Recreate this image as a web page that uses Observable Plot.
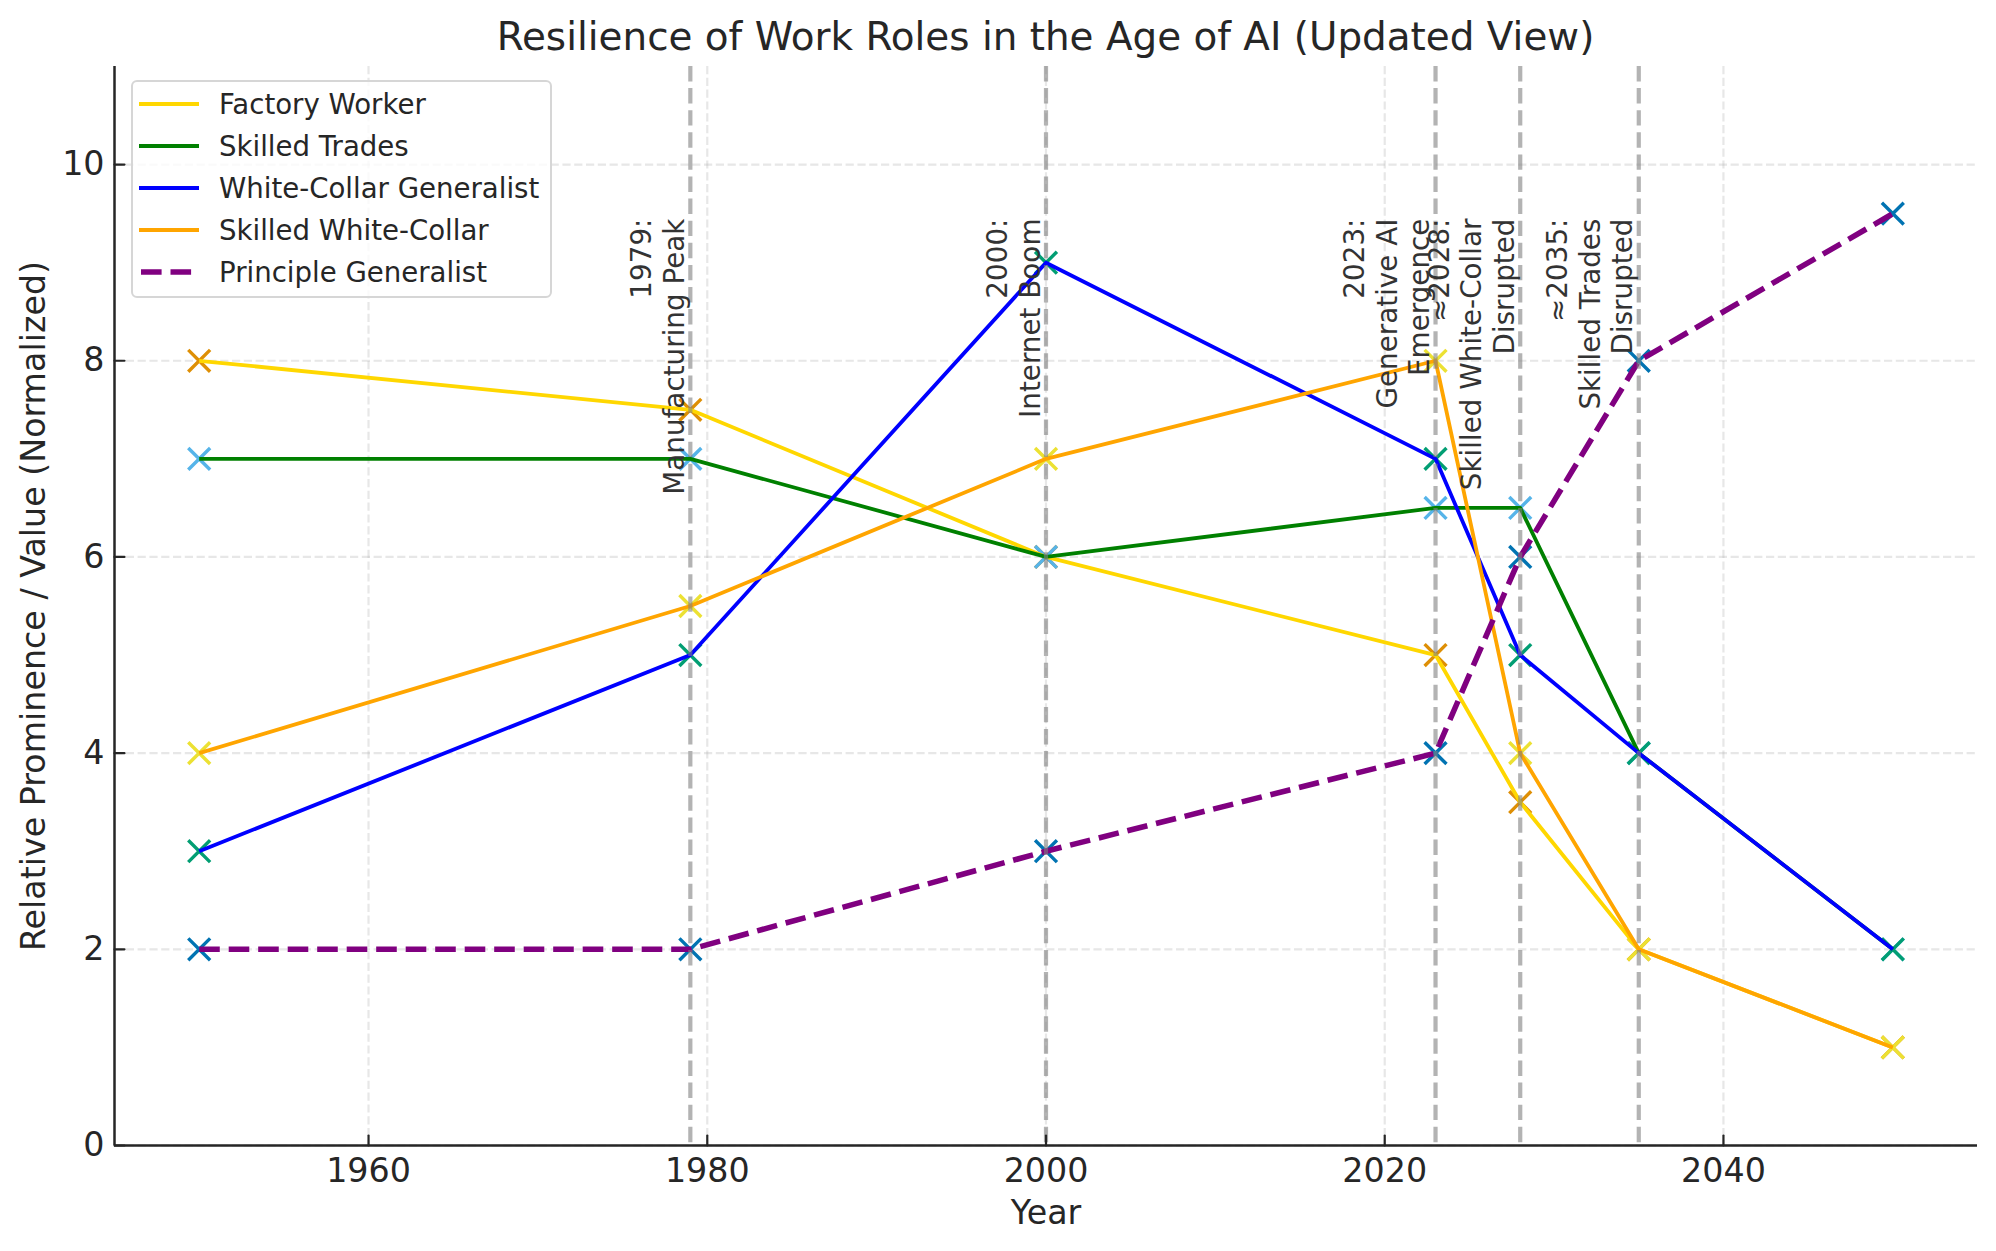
<!DOCTYPE html>
<html>
<head>
<meta charset="utf-8">
<script src="https://cdn.jsdelivr.net/npm/d3@7"></script>
<script src="https://cdn.jsdelivr.net/npm/@observablehq/plot@0.6"></script>
<style>
  html, body { margin: 0; padding: 0; background: #fff; }
  #wrap { position: relative; width: 1996px; height: 1251px; font-family: "DejaVu Sans", sans-serif; color: #262626; overflow: hidden; }
  #title { box-sizing: border-box; height: 60px; padding-top: 18px; text-align: center; font-size: 38.9px; line-height: 1; color: #262626; padding-left: 95px; white-space: nowrap; }
  #legend { position: absolute; box-sizing: border-box; left: 131px; top: 80px; width: 421px; height: 218px;
            border: 2px solid #d6d6d6; border-radius: 6px; background: rgba(255,255,255,0.8); }
  .row { position: absolute; left: 0; height: 42px; display: flex; align-items: center; font-size: 27.6px; color: #262626; white-space: nowrap; }
  .row svg { margin-left: 6px; margin-right: 20px; }
</style>
</head>
<body>
<div id="wrap">
  <div id="title">Resilience of Work Roles in the Age of AI (Updated View)</div>
  <div id="chart"></div>
  <div id="legend"></div>
</div>
<script>
// ---- data ----
const years = [1950, 1979, 2000, 2023, 2028, 2035, 2050];
const seriesNames = ["Factory Worker", "Skilled Trades", "White-Collar Generalist", "Skilled White-Collar", "Principle Generalist"];
const factoryWorker = [8, 7.5, 6, 5, 3.5, 2, 1];
const skilledTrades = [7, 7, 6, 6.5, 6.5, 4, 2];
const whiteCollarGeneralist = [3, 5, 9, 7, 5, 4, 2];
const skilledWhiteCollar = [4, 5.5, 7, 8, 4, 2, 1];
const principleGeneralist = [2, 2, 3, 4, 6, 8, 9.5];
const eventYears = [1979, 2000, 2023, 2028, 2035];
const eventLabels = [
  "1979:\nManufacturing Peak",
  "2000:\nInternet Boom",
  "2023:\nGenerative AI\nEmergence",
  "≈2028:\nSkilled White-Collar\nDisrupted",
  "≈2035:\nSkilled Trades\nDisrupted"
];
const eventLabelTop = 9.45;
const xTicks = [1960, 1980, 2000, 2020, 2040];
const yTicks = [0, 2, 4, 6, 8, 10];
const xDomain = [1945, 2055];
const yDomain = [0, 11];

// ---- styles ----
const lineColors = ["#FFD700", "#008000", "#0000FF", "#FFA500", "#800080"];
const markerColors = ["#DE8F05", "#56B4E9", "#029E73", "#ECE133", "#0173B2"];
const dashed = [false, false, false, false, true];
const ink = "#262626";

const valuesBySeries = [factoryWorker, skilledTrades, whiteCollarGeneralist, skilledWhiteCollar, principleGeneralist];
const rows = seriesNames.flatMap((name, i) => years.map((year, j) => ({series: name, idx: i, year, value: valuesBySeries[i][j]})));
const events = eventYears.map((year, i) => ({year, label: eventLabels[i], labelY: eventLabelTop}));

const tickShape = {draw(context, l) { context.moveTo(0, 0); context.lineTo(0, -l); }};
const gridStyle = {stroke: "#b0b0b0", strokeOpacity: 0.3, strokeWidth: 2.2, strokeDasharray: "8.2,3.6"};

const chart = Plot.plot({
  width: 1996,
  height: 1191,
  marginTop: 6,
  marginBottom: 106,
  marginLeft: 114,
  marginRight: 19,
  style: {fontFamily: "DejaVu Sans, sans-serif", color: ink, background: "#fff", overflow: "visible"},
  x: {domain: xDomain},
  y: {domain: yDomain},
  marks: [
    Plot.gridX(xTicks, gridStyle),
    Plot.gridY(yTicks, gridStyle),
    Plot.dot(rows, {x: "year", y: "value", symbol: "times", r: 10, stroke: d => markerColors[d.idx], strokeWidth: 3.4}),
    ...seriesNames.map((name, i) => Plot.line(rows.filter(d => d.idx === i), {
      x: "year", y: "value", stroke: lineColors[i],
      strokeWidth: dashed[i] ? 5.56 : 3.8,
      strokeDasharray: dashed[i] ? "20.6,8.9" : null,
      strokeLinecap: "butt"
    })),
    Plot.ruleX(events, {x: "year", stroke: "#808080", strokeOpacity: 0.6, strokeWidth: 4.2, strokeDasharray: "15.4,6.7"}),
    Plot.ruleX([xDomain[0]], {stroke: ink, strokeWidth: 2.5}),
    Plot.ruleY([yDomain[0]], {stroke: ink, strokeWidth: 2.5}),
    Plot.vector(xTicks, {x: d => d, y: () => yDomain[0], length: 10, rotate: 0, anchor: "start", shape: tickShape, stroke: ink, strokeWidth: 2.2}),
    Plot.vector(yTicks, {x: () => xDomain[0], y: d => d, length: 10, rotate: 90, anchor: "start", shape: tickShape, stroke: ink, strokeWidth: 2.2}),
    Plot.text(events, {x: "year", y: "labelY", text: "label", rotate: -90, textAnchor: "end", lineAnchor: "bottom",
      fontSize: 27.8, lineHeight: 1.17, fill: "#333", dx: -6.5}),
    Plot.axisX({ticks: xTicks, tickSize: 0, tickPadding: 13, tickFormat: d => String(d), fontSize: 33.3, label: null, fill: ink}),
    Plot.axisY({ticks: yTicks, tickSize: 0, tickPadding: 10, tickFormat: d => String(d), fontSize: 33.3, label: null, fill: ink}),
    Plot.text(["Year"], {frameAnchor: "bottom", dy: 68, lineAnchor: "middle", textAnchor: "middle", fontSize: 33.3, fill: ink}),
    Plot.text(["Relative Prominence / Value (Normalized)"], {frameAnchor: "left", dx: -80, rotate: -90, lineAnchor: "middle", textAnchor: "middle", fontSize: 33.3, fill: ink})
  ]
});
document.getElementById("chart").appendChild(chart);

// ---- legend ----
const legend = document.getElementById("legend");
seriesNames.forEach((name, i) => {
  const row = document.createElement("div");
  row.className = "row";
  row.style.top = (1 + i * 42) + "px";
  const svg = d3.create("svg").attr("width", 60).attr("height", 14);
  svg.append("line").attr("x1", dashed[i] ? 2 : 0).attr("x2", 60).attr("y1", 7).attr("y2", 7)
    .attr("stroke", lineColors[i])
    .attr("stroke-width", dashed[i] ? 5.56 : 3.8)
    .attr("stroke-dasharray", dashed[i] ? "20.6,8.9" : null);
  row.appendChild(svg.node());
  const span = document.createElement("span");
  span.textContent = name;
  row.appendChild(span);
  legend.appendChild(row);
});
</script>
</body>
</html>
